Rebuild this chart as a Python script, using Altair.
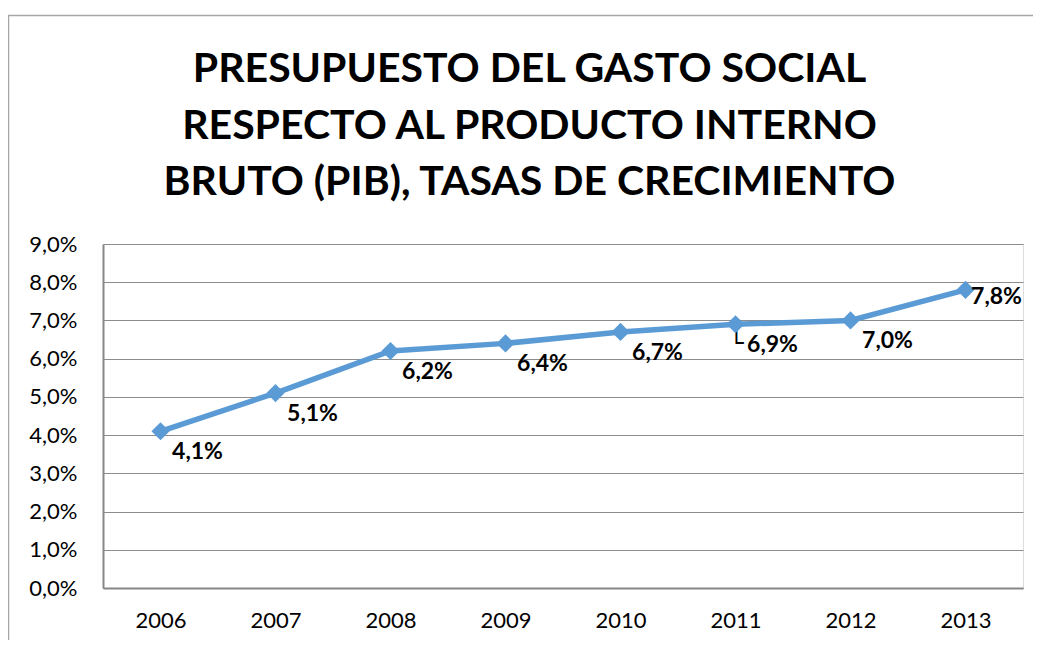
import altair as alt
import pandas as pd

years = ["2006", "2007", "2008", "2009", "2010", "2011", "2012", "2013"]
values = [4.1, 5.1, 6.2, 6.4, 6.7, 6.9, 7.0, 7.8]
title_lines = ["PRESUPUESTO DEL GASTO SOCIAL",
               "RESPECTO AL PRODUCTO INTERNO",
               "BRUTO (PIB), TASAS DE CRECIMIENTO"]
y_ticks = [0, 1, 2, 3, 4, 5, 6, 7, 8, 9]

df = pd.DataFrame({"year": years, "value": values})

FONT = "Lato"
LINE = "#5b9bd5"

x = alt.X("year:O", title=None,
          scale=alt.Scale(type="point", padding=0.5),
          axis=alt.Axis(labelAngle=0, labelFontSize=22, labelFont=FONT, labelColor="#000000",
                        labelPadding=22, ticks=False, domain=True, domainColor="#878787",
                        domainWidth=2, grid=False))
y = alt.Y("value:Q", title=None,
          scale=alt.Scale(domain=[0, 9], nice=False, zero=True),
          axis=alt.Axis(values=y_ticks, labelFontSize=22, labelFont=FONT, labelColor="#000000",
                        labelPadding=26, ticks=False, domain=True, domainColor="#878787",
                        domainWidth=2, grid=True, gridColor="#8c8c8c", gridWidth=1,
                        labelExpr="replace(format(datum.value, '.1f'), '.', ',') + '%'"))

base = alt.Chart(df)

line = base.mark_line(color=LINE, strokeWidth=5.5).encode(x=x, y=y)
pts = base.mark_point(shape="diamond", filled=True, color=LINE, size=330, opacity=1).encode(x=x, y=y)

lab_expr = "replace(format(datum.value, '.1f'), '.', ',') + '%'"
labels = base.transform_filter("datum.year != '2013'").transform_calculate(
    lab=lab_expr).mark_text(font=FONT, fontSize=23, fontWeight="bold", color="#000000",
                            align="center", baseline="middle", dx=37, dy=21).encode(
    x=x, y=y, text="lab:N")
label_last = base.transform_filter("datum.year == '2013'").transform_calculate(
    lab=lab_expr).mark_text(font=FONT, fontSize=23, fontWeight="bold", color="#000000",
                            align="center", baseline="middle", dx=31, dy=7).encode(
    x=x, y=y, text="lab:N")
leader = base.transform_filter("datum.year == '2011'").mark_text(
    text="└", font="DejaVu Sans Mono", fontSize=24, color="#000000",
    align="center", baseline="middle", dx=1, dy=20).encode(x=x, y=y)

one = pd.DataFrame({"a": [0]})
frame_top = alt.Chart(one).mark_rule(color="#a6a6a6", strokeWidth=1.5).encode(
    x=alt.value(-95), x2=alt.value(960), y=alt.value(-228.5))
frame_left = alt.Chart(one).mark_rule(color="#a6a6a6", strokeWidth=1.5).encode(
    x=alt.value(-94.5), y=alt.value(-229), y2=alt.value(420))
title = alt.Chart(one).mark_text(text=title_lines, font=FONT, fontSize=41, fontWeight="bold",
                                 color="#000000", align="center", baseline="alphabetic",
                                 lineHeight=56.5).encode(
    x=alt.value(426.5), y=alt.value(-162))

chart = alt.layer(frame_top, frame_left, title, line, leader, pts, labels, label_last).properties(
    width=920, height=344,
    autosize=alt.AutoSizeParams(type="none"),
    padding={"left": 95, "top": 236, "right": 10, "bottom": 52},
).configure_view(fill="#e9edf6", stroke=None).configure(background="#ffffff")

chart.save("out.html", embed_options={"renderer": "svg", "actions": False})
